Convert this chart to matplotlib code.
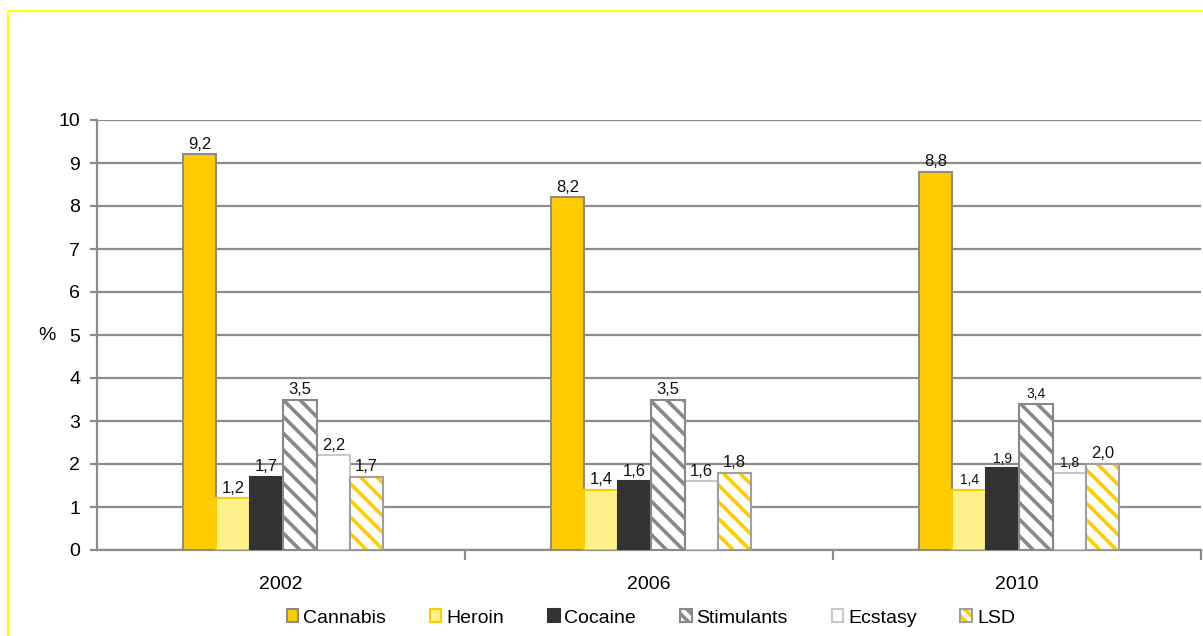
import matplotlib
matplotlib.use("Agg")
import matplotlib.pyplot as plt
from matplotlib.patches import Rectangle, Patch
from matplotlib.legend_handler import HandlerTuple
import numpy as np

plt.rcParams['font.family'] = ['Liberation Sans', 'DejaVu Sans']
plt.rcParams['hatch.linewidth'] = 2.6

years = ["2002", "2006", "2010"]
substances = ["Cannabis", "Heroin", "Cocaine", "Stimulants", "Ecstasy", "LSD"]
cannabis = [9.2, 8.2, 8.8]
heroin = [1.2, 1.4, 1.4]
cocaine = [1.7, 1.6, 1.9]
stimulants = [3.5, 3.5, 3.4]
ecstasy = [2.2, 1.6, 1.8]
lsd = [1.7, 1.8, 2.0]
series = [cannabis, heroin, cocaine, stimulants, ecstasy, lsd]
yticks = list(range(0, 11))

GOLD = "#FFCC00"
GRID = "#8C8C8C"
styles = [
    dict(face=GOLD, edge="#8C8C8C", hatch=None, hcol=None),
    dict(face="#FFF28C", edge=GOLD, hatch=None, hcol=None),
    dict(face="#333333", edge="#333333", hatch=None, hcol=None),
    dict(face="white", edge="#888888", hatch="\\\\", hcol="#888888"),
    dict(face="white", edge="#C8C8C8", hatch=None, hcol=None),
    dict(face="white", edge="#A0A0A0", hatch="\\\\", hcol=GOLD),
]
label_sizes = [
    [12, 12, 12, 12, 12, 12],
    [12, 12, 12, 12, 12, 12],
    [12, 10, 10, 10, 10, 12],
]

fig = plt.figure(figsize=(12.03, 6.36), dpi=100)
ax = fig.add_axes([97 / 1203, 1 - 550 / 636, 1104 / 1203, 430 / 636])

x = np.arange(len(years))
width = 0.0908
for i, (vals, st) in enumerate(zip(series, styles)):
    pos = x + (i - 2.5) * width + 0.006
    if st["hatch"]:
        ax.bar(pos, vals, width, color=st["face"], edgecolor=st["hcol"],
               hatch=st["hatch"], linewidth=0, zorder=3)
        ax.bar(pos, vals, width, fill=False, edgecolor=st["edge"],
               linewidth=1.5, zorder=4)
    else:
        ax.bar(pos, vals, width, color=st["face"], edgecolor=st["edge"],
               linewidth=1.5, zorder=3)
    for j, (p, v) in enumerate(zip(pos, vals)):
        ax.text(p, v + 0.06, f"{v:.1f}".replace(".", ","), ha="center",
                va="bottom", fontsize=label_sizes[j][i], color="#111111",
                zorder=5)

ax.set_xlim(-0.5, 2.5)
ax.set_ylim(0, 10)
ax.set_yticks(yticks)
ax.set_yticklabels([str(t) for t in yticks], fontsize=14)
ax.yaxis.grid(True, color=GRID, linewidth=1.6, zorder=0)
ax.set_axisbelow(True)

ax.set_xticks(x)
ax.set_xticklabels(years, fontsize=14)
ax.tick_params(axis="x", length=0, pad=19)
ax.set_xticks([0.5, 1.5, 2.5], minor=True)
ax.tick_params(axis="x", which="minor", length=7, width=1.6, color=GRID)
ax.tick_params(axis="y", length=5, width=1.6, color=GRID, pad=7)

for s in ["top", "right"]:
    ax.spines[s].set_visible(False)
for s in ["left", "bottom"]:
    ax.spines[s].set_color(GRID)
    ax.spines[s].set_linewidth(1.6)

ax.text(-0.045, 0.5, "%", transform=ax.transAxes, fontsize=14,
        ha="center", va="center")

# Legend keys: hatched keys are a hatch layer under a plain outlined square
handles = []
for name, st in zip(substances, styles):
    if st["hatch"]:
        under = Patch(facecolor=st["face"], edgecolor=st["hcol"],
                      hatch="\\\\\\", linewidth=0)
        over = Patch(fill=False, edgecolor=st["edge"], linewidth=1.5)
        handles.append((under, over))
    else:
        handles.append(Patch(facecolor=st["face"], edgecolor=st["edge"],
                             linewidth=1.5))
fig.legend(handles=handles, labels=substances, loc="center",
           bbox_to_anchor=(0.541, 1 - 618 / 636),
           handler_map={tuple: HandlerTuple(ndivide=1)},
           ncol=6, frameon=False, fontsize=14, handlelength=0.6,
           handleheight=0.6, handletextpad=0.25, columnspacing=2.25)

fig.add_artist(Rectangle((8 / 1203, -0.1), 1.2, 1.1 - 11 / 636,
                         transform=fig.transFigure, fill=False,
                         edgecolor="#FFFF00", linewidth=1.5))

fig.savefig("out.png", dpi=100)
